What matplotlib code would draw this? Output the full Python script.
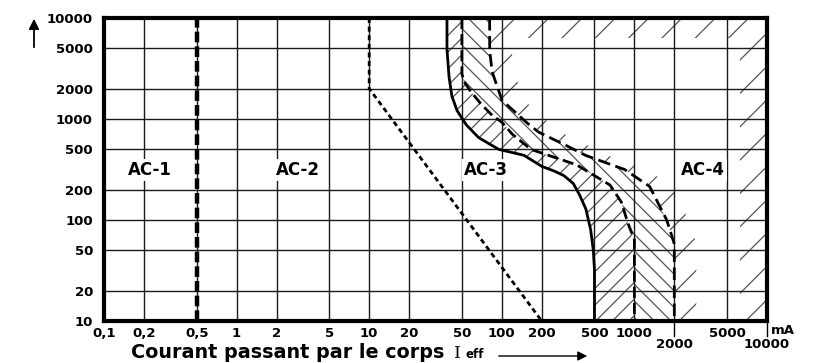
"""Time/current zones of alternating current on the human body (AC-1 .. AC-4)."""

import matplotlib

matplotlib.use("Agg")

import matplotlib.pyplot as plt  # noqa: E402
import matplotlib.transforms as mtransforms  # noqa: E402
from matplotlib.patches import Rectangle  # noqa: E402

plt.rcParams["font.family"] = ["DejaVu Sans"]
plt.rcParams["hatch.linewidth"] = 0.9

# Axis ticks (current in mA, time in ms)
X_TICKS = [0.1, 0.2, 0.5, 1, 2, 5, 10, 20, 50, 100, 200, 500, 1000, 2000, 5000, 10000]
X_LABELS = ["0,1", "0,2", "0,5", "1", "2", "5", "10", "20", "50", "100", "200",
            "500", "1000", "2000", "5000", "10000"]
X_LOW = [2000, 10000]  # these labels sit on a second row
Y_TICKS = [10, 20, 50, 100, 200, 500, 1000, 2000, 5000, 10000]

# Boundary a (0,5 mA)
a_i = [0.5, 0.5]
a_t = [10, 10000]

# Boundary b
b_i = [10, 10, 200]
b_t = [10000, 2000, 10]

# Curve c1
c1_i = [38.6, 38.6, 40, 42, 46, 54, 67, 95, 147, 200, 249, 294, 346, 386, 431, 468, 490, 500, 500]
c1_t = [10000, 4900, 2620, 1690, 1210, 875, 653, 500, 437, 340, 305, 275, 230, 177, 128, 80, 50, 32, 10]

# Curve c2
c2_i = [50, 50, 52, 58, 69, 85, 100, 120, 166, 366, 655, 798, 893, 1000, 1000]
c2_t = [10000, 2800, 2340, 1890, 1430, 1080, 930, 707, 500, 352, 222, 150, 93, 64, 10]

# Curve c3
c3_i = [81, 81, 84.5, 89.5, 100.5, 116, 160, 190, 310, 431, 845, 1302, 1753, 2000, 2000]
c3_t = [10000, 4800, 2945, 2360, 1530, 1290, 883, 740, 542, 435, 316, 215, 100, 58, 10]

# Zone names
ZONE_NAMES = ["AC-1", "AC-2", "AC-3", "AC-4"]
ZONE_I = [0.22, 2.9, 76, 3300]
ZONE_T = [316, 316, 316, 316]

HATCH_COLOR = "#555555"

fig = plt.figure(figsize=(8.15, 3.63), dpi=100)
ax = fig.add_axes([0.1276, 0.1157, 0.8135, 0.8347])
ax.set_xscale("log")
ax.set_yscale("log")

# hatched bands between c1/c2 and c2/c3
ax.fill(c1_i + c2_i[::-1], c1_t + c2_t[::-1], facecolor="none",
        edgecolor=HATCH_COLOR, hatch="//", linewidth=0, zorder=1)
ax.fill(c2_i + c3_i[::-1], c2_t + c3_t[::-1], facecolor="none",
        edgecolor=HATCH_COLOR, hatch="\\\\", linewidth=0, zorder=1)

# AC-4: hatching only along its border -> hatch everything, then blank the inside
ax.fill(c3_i + [10000, 10000], c3_t + [10, 10000], facecolor="none",
        edgecolor=HATCH_COLOR, hatch="/", linewidth=0, zorder=1)
shifted = mtransforms.offset_copy(ax.transData, fig=fig, x=22, y=0, units="dots")
inner = ax.fill(c3_i + [10000, 10000], c3_t + [10, 10000], facecolor="white",
                edgecolor="none", transform=shifted, zorder=1.2)[0]
inner.set_clip_path(Rectangle((0, 0), 1 - 27 / 663, 1 - 20 / 303, transform=ax.transAxes))

# boundaries
ax.plot(a_i, a_t, color="black", lw=3.2, dashes=(2.4, 0.9), zorder=3)
ax.plot(b_i, b_t, color="black", lw=2.0, dashes=(1.8, 1.3), zorder=3)
ax.plot(c1_i, c1_t, color="black", lw=2.0, zorder=3)
ax.plot(c2_i, c2_t, color="black", lw=2.0, dashes=(4.0, 1.8), zorder=3)
ax.plot(c3_i, c3_t, color="black", lw=2.0, dashes=(4.5, 2.0), zorder=3)

for name, xi, yt in zip(ZONE_NAMES, ZONE_I, ZONE_T):
    ax.text(xi, yt, name, fontsize=12, fontweight="bold", ha="center", va="center",
            zorder=4, bbox=dict(facecolor="white", edgecolor="none", pad=1.5))

ax.set_xlim(0.1, 10000)
ax.set_ylim(10, 10000)
ax.minorticks_off()
ax.set_xticks(X_TICKS, labels=["" if v in X_LOW else s for v, s in zip(X_TICKS, X_LABELS)])
ax.set_yticks(Y_TICKS, labels=[str(v) for v in Y_TICKS])
ax.tick_params(length=0, labelsize=9.5)
ax.tick_params(axis="x", pad=4)
ax.tick_params(axis="y", pad=8)
for lab in ax.get_xticklabels() + ax.get_yticklabels():
    lab.set_fontweight("bold")

ax.set_axisbelow(False)
ax.grid(True, color="#1a1a1a", lw=1.0)
for sp in ax.spines.values():
    sp.set_linewidth(3.0)
    sp.set_zorder(5)

# second-row labels with their small tick lines
xt = ax.get_xaxis_transform()
for v in X_LOW:
    ax.plot([v, v], [0, -0.05], transform=xt, clip_on=False, color="black", lw=1.0)
    ax.text(v, -0.079, X_LABELS[X_TICKS.index(v)], transform=xt, ha="center", va="center",
            fontsize=9.5, fontweight="bold")
ax.text(1.006, -0.03, "mA", transform=ax.transAxes, ha="left", va="center",
        fontsize=9.5, fontweight="bold")

# axis titles
W, H = 815, 363
fig.text(131 / W, 1 - 358 / H, "Courant passant par le corps", fontsize=13.8,
         fontweight="bold", ha="left", va="baseline")
fig.text(454 / W, 1 - 358 / H, "I", fontsize=12.5, family="DejaVu Serif",
         ha="left", va="baseline")
fig.text(465 / W, 1 - 358 / H, "eff", fontsize=8.5, fontweight="bold",
         ha="left", va="baseline")
ax.annotate("", xy=(590 / W, 1 - 356 / H), xytext=(496 / W, 1 - 356 / H),
            xycoords="figure fraction",
            arrowprops=dict(arrowstyle="-|>", color="black", lw=1.0, mutation_scale=14))
ax.annotate("", xy=(34 / W, 1 - 16 / H), xytext=(34 / W, 1 - 50 / H),
            xycoords="figure fraction",
            arrowprops=dict(arrowstyle="-|>", color="black", lw=1.3, mutation_scale=15))

fig.savefig("out.png", dpi=100)
plt.close(fig)
